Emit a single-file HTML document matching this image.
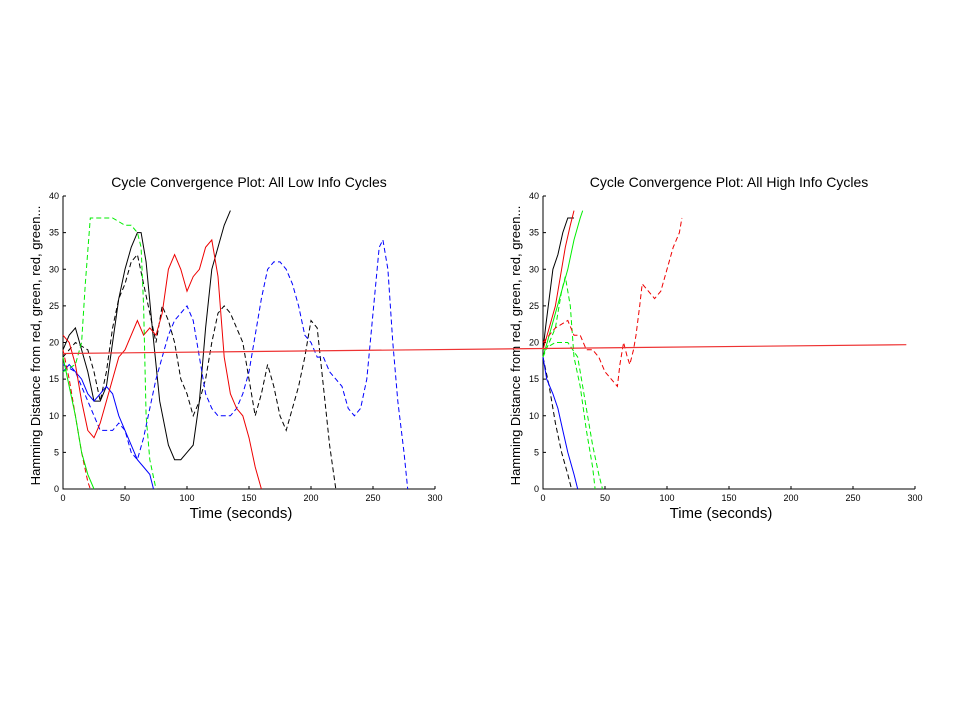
<!DOCTYPE html>
<html><head><meta charset="utf-8"><style>
body{margin:0;background:#fff}
svg{display:block;font-family:"Liberation Sans",Arial,sans-serif}
</style></head><body>
<svg id="fig" width="960" height="720" viewBox="0 0 960 720" xmlns="http://www.w3.org/2000/svg"></svg>
<script>
const xTicks=[0,50,100,150,200,250,300];
const yTicks=[0,5,10,15,20,25,30,35,40];
const titles=["Cycle Convergence Plot: All Low Info Cycles","Cycle Convergence Plot: All High Info Cycles"];
// left panel series: [time, value] pairs
const lowBlackSolid=[[0,19],[5,21],[10,22],[15,19],[20,16],[25,12],[30,12],[35,14],[40,20],[45,26],[50,30],[55,33],[60,35],[63,35],[67,31],[72,22],[78,12],[85,6],[90,4],[95,4],[100,5],[105,6],[110,12],[115,22],[120,30],[125,33],[130,36],[135,38]];
const lowBlackDash=[[0,18],[10,20],[20,19],[25,16],[30,12],[35,16],[40,22],[45,26],[50,28],[55,31],[60,32],[65,28],[70,24],[75,20],[80,25],[85,23],[90,20],[95,15],[100,13],[105,10],[110,12],[115,15],[120,20],[125,24],[130,25],[135,24],[140,22],[145,20],[150,15],[155,10],[160,13],[165,17],[170,14],[175,10],[180,8],[185,11],[190,14],[195,18],[200,23],[205,22],[210,14],[215,6],[220,0]];
const lowBlueDash=[[0,17],[10,16],[20,12],[30,8],[40,8],[45,9],[50,8],[55,5],[60,4],[65,7],[70,11],[75,15],[80,18],[85,21],[90,23],[95,24],[100,25],[105,23],[110,18],[115,13],[120,11],[125,10],[130,10],[135,10],[140,11],[145,13],[150,16],[155,21],[160,26],[165,30],[170,31],[175,31],[180,30],[185,28],[190,25],[195,21],[200,20],[205,18],[210,18],[215,16],[220,15],[225,14],[230,11],[235,10],[240,11],[245,15],[250,24],[255,33],[258,34],[262,30],[266,20],[270,12],[275,5],[278,0]];
const lowBlueSolid=[[0,16],[5,17],[10,16],[15,15],[20,13],[25,12],[30,13],[35,14],[40,13],[45,10],[50,8],[55,6],[60,4],[65,3],[70,2],[73,0]];
const lowRedSolid=[[0,21],[5,20],[10,17],[15,12],[20,8],[25,7],[30,9],[35,12],[40,15],[45,18],[50,19],[55,21],[60,23],[65,21],[70,22],[75,21],[80,24],[85,30],[90,32],[95,30],[100,27],[105,29],[110,30],[115,33],[120,34],[125,29],[130,18],[135,13],[140,11],[145,10],[150,7],[155,3],[160,0]];
const lowRedDash=[[0,19],[5,15],[10,10],[15,5],[20,1],[22,0]];
const lowGreenSolid=[[0,18],[5,14],[10,10],[15,5],[20,2],[25,0]];
const lowGreenDash=[[0,16],[10,17],[15,20],[18,28],[22,37],[35,37],[40,37],[50,36],[55,36],[60,35],[63,33],[65,25],[67,10],[70,4],[75,0]];
// right panel series
const highBlackSolid=[[0,19],[2,22],[5,26],[8,30],[12,32],[16,35],[20,37],[25,37]];
const highRedSolid=[[0,19],[5,22],[10,25],[15,30],[18,33],[22,36],[25,38]];
const highGreenSolid=[[0,18],[5,21],[10,24],[15,27],[20,30],[25,34],[30,37],[32,38]];
const highGreenDashA=[[0,18],[5,20],[10,22],[15,27],[18,29],[22,25],[25,18],[30,14],[35,8],[40,3],[42,0]];
const highGreenDashB=[[0,19],[10,20],[20,20],[28,18],[32,14],[36,10],[40,6],[45,2],[48,0]];
const highRedDash=[[0,20],[10,22],[20,23],[25,21],[30,21],[35,19],[40,19],[45,18],[50,16],[55,15],[60,14],[62,17],[65,20],[68,18],[70,17],[73,19],[75,21],[78,25],[80,28],[85,27],[90,26],[95,27],[100,30],[105,33],[110,35],[112,37]];
const highBlackDash=[[0,18],[5,14],[10,9],[15,5],[20,2],[23,0]];
const highBlueSolid=[[0,18],[3,15],[8,13],[12,11],[16,8],[20,5],[25,2],[28,0]];
// cross-panel red line: [panel, time, value]
const crossLine=[[0,0,18.5],[1,293,19.7]];

const NS="http://www.w3.org/2000/svg";
const svg=document.getElementById('fig');
const panels=[{x0:63,x1:435,y0:489,y1:196},{x0:543,x1:915,y0:489,y1:196}];
function sx(p,v){const P=panels[p];return P.x0+(P.x1-P.x0)*v/300;}
function sy(p,v){const P=panels[p];return P.y0+(P.y1-P.y0)*v/40;}
function mk(tag,attrs,parent){const e=document.createElementNS(NS,tag);for(const k in attrs)e.setAttribute(k,attrs[k]);(parent||svg).appendChild(e);return e;}

const G='#00ee00';
const seriesDefs=[
 [0,lowBlackSolid,'#000',false,'low-black-solid'],[0,lowBlackDash,'#000',true,'low-black-dashed'],
 [0,lowBlueDash,'#00f',true,'low-blue-dashed'],[0,lowBlueSolid,'#00f',false,'low-blue-solid'],
 [0,lowRedSolid,'#e00',false,'low-red-solid'],[0,lowRedDash,'#e00',true,'low-red-dashed'],
 [0,lowGreenSolid,G,false,'low-green-solid'],[0,lowGreenDash,G,true,'low-green-dashed'],
 [1,highBlackSolid,'#000',false,'high-black-solid'],[1,highRedSolid,'#e00',false,'high-red-solid'],
 [1,highGreenSolid,G,false,'high-green-solid'],[1,highGreenDashA,G,true,'high-green-dashed-a'],
 [1,highGreenDashB,G,true,'high-green-dashed-b'],[1,highRedDash,'#e00',true,'high-red-dashed'],
 [1,highBlackDash,'#000',true,'high-black-dashed'],[1,highBlueSolid,'#00f',false,'high-blue-solid']
];

panels.forEach((P,p)=>{
  const g=mk('g',{});
  
  
  const ax=mk('path',{d:`M${P.x0},${P.y1}V${P.y0}H${P.x1}`,stroke:'#000',fill:'none','stroke-width':1},g);
  
  
  xTicks.forEach(t=>{
    const x=sx(p,t);
    mk('line',{x1:x,x2:x,y1:P.y0,y2:P.y0-3,stroke:'#000'},g);
    const tx=mk('text',{x:x,y:P.y0+12,'font-size':9,'text-anchor':'middle'},g);tx.textContent=t;
    
    
  });
  yTicks.forEach(t=>{
    const y=sy(p,t);
    mk('line',{x1:P.x0,x2:P.x0+3,y1:y,y2:y,stroke:'#000'},g);
    const tx=mk('text',{x:P.x0-4,y:y+3,'font-size':9,'text-anchor':'end'},g);tx.textContent=t;
    
    
  });
  const ti=mk('text',{x:(P.x0+P.x1)/2,y:187,'font-size':14,'text-anchor':'middle'},g);ti.textContent=titles[p];
  
  
  const xl=mk('text',{x:(P.x0+P.x1)/2-8,y:518,'font-size':15,'text-anchor':'middle'},g);xl.textContent='Time (seconds)';
  
  
  const yl=mk('text',{x:0,y:0,'font-size':13,'text-anchor':'middle',transform:`translate(${P.x0-23},${(P.y0+P.y1)/2+3}) rotate(-90)`},g);yl.textContent='Hamming Distance from red, green, red, green...';
  
  
});

seriesDefs.forEach(([p,data,col,dash,name])=>{
  const d=data.map((pt,i)=>(i?'L':'M')+sx(p,pt[0]).toFixed(1)+','+sy(p,pt[1]).toFixed(1)).join('');
  const e=mk('path',{d:d,stroke:col,fill:'none','stroke-width':1,'stroke-dasharray':dash?'5,3':'none'});
  
  
});
const cl=mk('path',{d:crossLine.map((pt,i)=>(i?'L':'M')+sx(pt[0],pt[1])+','+sy(pt[0],pt[2])).join(''),stroke:'#e33',fill:'none','stroke-width':1.2});


</script>
</body></html>
